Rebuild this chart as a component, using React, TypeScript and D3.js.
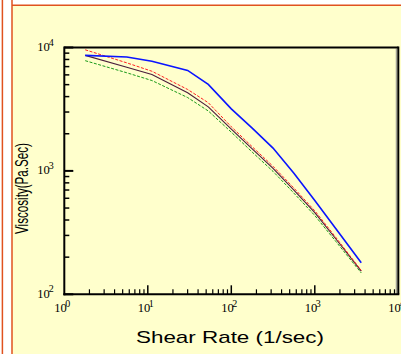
import React from "react";
import * as d3 from "d3";

// Shear rate samples (1/sec) shared by all four flow curves
const shearRate = [1.78, 5.6, 11.2, 30, 53, 100, 178, 316, 562, 1000, 1780, 3600];

// Viscosity (Pa.Sec) per sample
const viscosityBlue = [8630, 8380, 7750, 6520, 5020, 3180, 2220, 1530, 958, 576, 341, 180];
const viscosityRed = [9580, 7510, 6420, 4570, 3570, 2280, 1570, 1090, 726, 475, 290, 156];
const viscosityBlack = [8630, 6910, 6040, 4300, 3300, 2180, 1510, 1047, 700, 459, 282, 154];
const viscosityGreen = [7820, 6240, 5400, 3930, 3060, 2060, 1420, 991, 660, 435, 269, 149];

const xDecades = [0, 1, 2, 3, 4];
const yDecades = [2, 3, 4];

const W = 401;
const H = 354;
const left = 64.3;
const right = 398.3;
const top = 47.5;
const bottom = 294.3;

const orange = "#E0521E";
const panel = "#FFFFCC";

export default function App() {
  const x = d3.scaleLog().domain([1, 10000]).range([left, right]);
  const y = d3.scaleLog().domain([100, 10000]).range([bottom, top]);

  const line = d3
    .line<[number, number]>()
    .x((d) => x(d[0]))
    .y((d) => y(d[1]));

  const pts = (vals: number[]) => shearRate.map((s, i) => [s, vals[i]] as [number, number]);

  const xMinor: number[] = [];
  for (let p = 0; p < 4; p++) for (let m = 2; m <= 9; m++) xMinor.push(m * Math.pow(10, p));
  const yMinor: number[] = [];
  for (let p = 2; p < 4; p++) for (let m = 2; m <= 9; m++) yMinor.push(m * Math.pow(10, p));

  const serif = "'Liberation Serif', 'DejaVu Serif', serif";
  const sans = "'Liberation Sans', Arial, sans-serif";

  return (
    <svg
      width={W}
      height={H}
      style={{ position: "absolute", left: 0, top: 0, display: "block" }}
    >
      <rect x={0} y={0} width={W} height={H} fill="#ffffff" />
      {/* outer panel */}
      <rect x={12} y={5.3} width={W - 12} height={H - 5.3} fill={panel} />
      <line x1={12} y1={0} x2={12} y2={H} stroke={orange} strokeWidth={1.5} />
      <line x1={12} y1={5.3} x2={W} y2={5.3} stroke={orange} strokeWidth={1.5} />
      <line x1={2.4} y1={0} x2={2.4} y2={H} stroke={orange} strokeWidth={1.5} />

      {/* curves */}
      <path d={line(pts(viscosityGreen)) || ""} fill="none" stroke="#1a9a1a" strokeWidth={1} strokeDasharray="3,1.5" />
      <path d={line(pts(viscosityBlack)) || ""} fill="none" stroke="#4a1c3c" strokeWidth={1.1} />
      <path d={line(pts(viscosityRed)) || ""} fill="none" stroke="#ff2020" strokeWidth={1} strokeDasharray="3,1.5" />
      <path d={line(pts(viscosityBlue)) || ""} fill="none" stroke="#0a14ff" strokeWidth={1.6} />

      {/* frame */}
      <line x1={right - 2} y1={top + 1} x2={right - 2} y2={bottom} stroke="#888" strokeWidth={1} />
      <line x1={left} y1={top} x2={right} y2={top} stroke="#000" strokeWidth={2} />
      <line x1={right} y1={top - 1} x2={right} y2={bottom} stroke="#000" strokeWidth={2} />
      <line x1={left} y1={top - 1} x2={left} y2={bottom + 1} stroke="#000" strokeWidth={2} />
      <line x1={left - 1} y1={bottom} x2={right + 1} y2={bottom} stroke="#000" strokeWidth={2} />

      {/* y ticks */}
      {yDecades.map((p) => (
        <line key={"ym" + p} x1={left} x2={left + 9} y1={y(Math.pow(10, p))} y2={y(Math.pow(10, p))} stroke="#000" strokeWidth={2} />
      ))}
      {yMinor.map((v) => (
        <line key={"yn" + v} x1={left} x2={left + 5} y1={y(v)} y2={y(v)} stroke="#000" strokeWidth={1.5} />
      ))}
      {/* x ticks */}
      {xDecades.slice(1, 4).map((p) => (
        <line key={"xm" + p} x1={x(Math.pow(10, p))} x2={x(Math.pow(10, p))} y1={bottom} y2={bottom - 9} stroke="#000" strokeWidth={1.5} />
      ))}
      {xMinor.map((v) => (
        <line key={"xn" + v} x1={x(v)} x2={x(v)} y1={bottom} y2={bottom - 5} stroke="#000" strokeWidth={1.2} />
      ))}

      {/* y tick labels */}
      {yDecades.map((p) => {
        const yy = y(Math.pow(10, p));
        return (
          <g key={"yl" + p} fontFamily={serif} fill="#000">
            <text x={left - 27} y={yy + 3.5} fontSize={12.5}>10</text>
            <text x={left - 15.5} y={yy - 2} fontSize={10}>{p}</text>
          </g>
        );
      })}
      {/* x tick labels */}
      {xDecades.map((p) => {
        const xx = x(Math.pow(10, p));
        return (
          <g key={"xl" + p} fontFamily={serif} fill="#000">
            <text x={xx - 10} y={bottom + 17.5} fontSize={12.5}>10</text>
            <text x={xx + 1} y={bottom + 12.5} fontSize={10}>{p}</text>
          </g>
        );
      })}

      {/* axis titles */}
      <text
        x={136}
        y={343}
        fontFamily={sans}
        fontSize={17}
        textLength={188}
        lengthAdjust="spacingAndGlyphs"
        fill="#000"
      >
        Shear Rate (1/sec)
      </text>
      <text
        transform="translate(27.5,234) rotate(-90)"
        x={0}
        y={0}
        fontFamily={sans}
        fontSize={17.5}
        textLength={91}
        lengthAdjust="spacingAndGlyphs"
        fill="#000"
      >
        Viscosity(Pa.Sec)
      </text>
    </svg>
  );
}
